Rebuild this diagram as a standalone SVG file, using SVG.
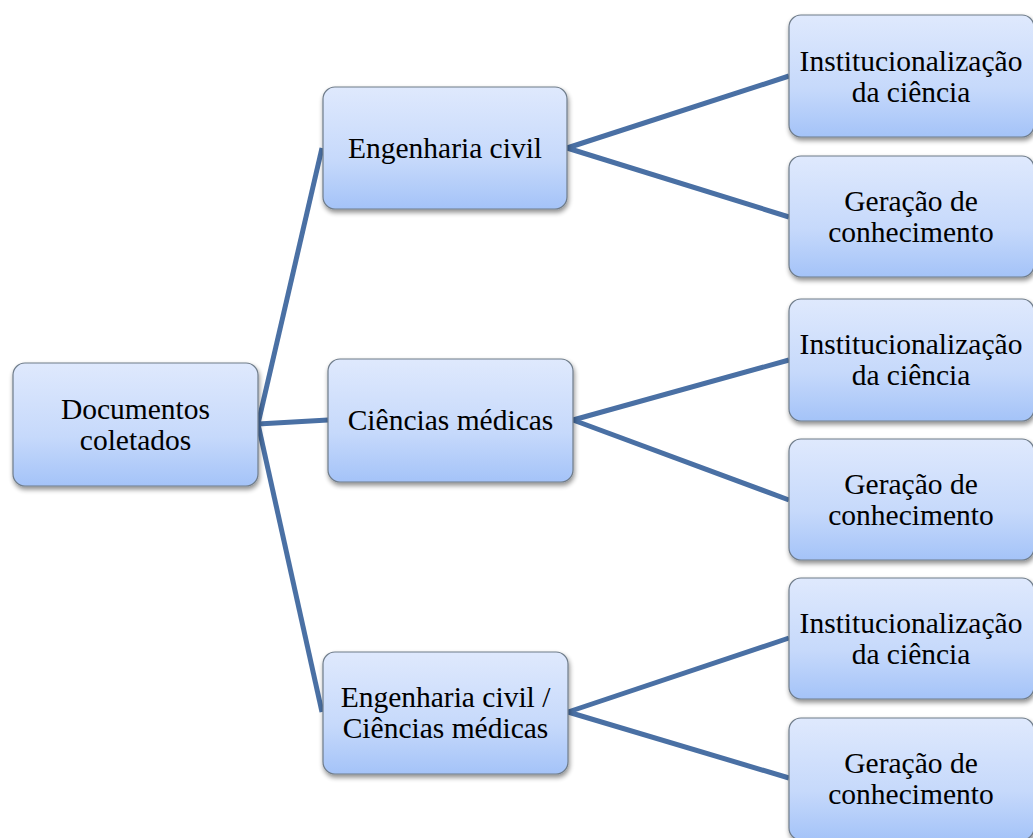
<svg xmlns="http://www.w3.org/2000/svg" width="1033" height="838" viewBox="0 0 1033 838">
<defs>
<linearGradient id="g" x1="0" y1="0" x2="0" y2="1">
<stop offset="0" stop-color="#dfe9fd"/>
<stop offset="0.6" stop-color="#c6d9fb"/>
<stop offset="1" stop-color="#a4c3f8"/>
</linearGradient>
<filter id="sh" x="-10%" y="-10%" width="125%" height="130%">
<feGaussianBlur in="SourceAlpha" stdDeviation="2.5"/>
<feOffset dx="1" dy="3" result="b"/>
<feComponentTransfer><feFuncA type="linear" slope="0.45"/></feComponentTransfer>
<feMerge><feMergeNode/><feMergeNode in="SourceGraphic"/></feMerge>
</filter>
</defs>
<style>
.box{fill:url(#g);stroke:#6f7c8a;stroke-width:1.2;filter:url(#sh)}
.t{font-family:"Liberation Serif","Times New Roman",serif;font-size:29.5px;fill:#000;text-anchor:middle}
.c{stroke:#4a70a4;stroke-width:5;fill:none;stroke-linecap:butt}
</style>
<g id="connectors">
<line class="c" x1="258" y1="424" x2="322" y2="148"/>
<line class="c" x1="258" y1="424" x2="328" y2="420"/>
<line class="c" x1="258" y1="424" x2="322" y2="712"/>
<line class="c" x1="567" y1="148" x2="789" y2="76"/>
<line class="c" x1="567" y1="148" x2="789" y2="217"/>
<line class="c" x1="573" y1="420" x2="789" y2="360"/>
<line class="c" x1="573" y1="420" x2="789" y2="500"/>
<line class="c" x1="568" y1="712" x2="789" y2="638"/>
<line class="c" x1="568" y1="712" x2="789" y2="778"/>
</g>
<g id="n-root"><rect class="box" x="13" y="363" width="245" height="123" rx="12"/><text class="t" x="135.5" y="419">Documentos</text><text class="t" x="135.5" y="450">coletados</text></g>
<g id="n-ec"><rect class="box" x="323" y="87" width="244" height="122" rx="12"/><text class="t" x="445" y="158">Engenharia civil</text></g>
<g id="n-cm"><rect class="box" x="328" y="359" width="245" height="123" rx="12"/><text class="t" x="450.5" y="430">Ciências médicas</text></g>
<g id="n-eccm"><rect class="box" x="323" y="652" width="245" height="122" rx="12"/><text class="t" x="445.5" y="707">Engenharia civil /</text><text class="t" x="445.5" y="738">Ciências médicas</text></g>
<g id="n-i1"><rect class="box" x="789" y="15" width="245" height="122" rx="12"/><text class="t" x="911" y="71">Institucionalização</text><text class="t" x="911" y="102">da ciência</text></g>
<g id="n-g1"><rect class="box" x="789" y="156" width="245" height="121" rx="12"/><text class="t" x="911" y="211">Geração de</text><text class="t" x="911" y="242">conhecimento</text></g>
<g id="n-i2"><rect class="box" x="789" y="299" width="245" height="122" rx="12"/><text class="t" x="911" y="354">Institucionalização</text><text class="t" x="911" y="385">da ciência</text></g>
<g id="n-g2"><rect class="box" x="789" y="439" width="245" height="121" rx="12"/><text class="t" x="911" y="494">Geração de</text><text class="t" x="911" y="525">conhecimento</text></g>
<g id="n-i3"><rect class="box" x="789" y="578" width="245" height="121" rx="12"/><text class="t" x="911" y="633">Institucionalização</text><text class="t" x="911" y="664">da ciência</text></g>
<g id="n-g3"><rect class="box" x="789" y="718" width="245" height="122" rx="12"/><text class="t" x="911" y="773">Geração de</text><text class="t" x="911" y="804">conhecimento</text></g>
</svg>
